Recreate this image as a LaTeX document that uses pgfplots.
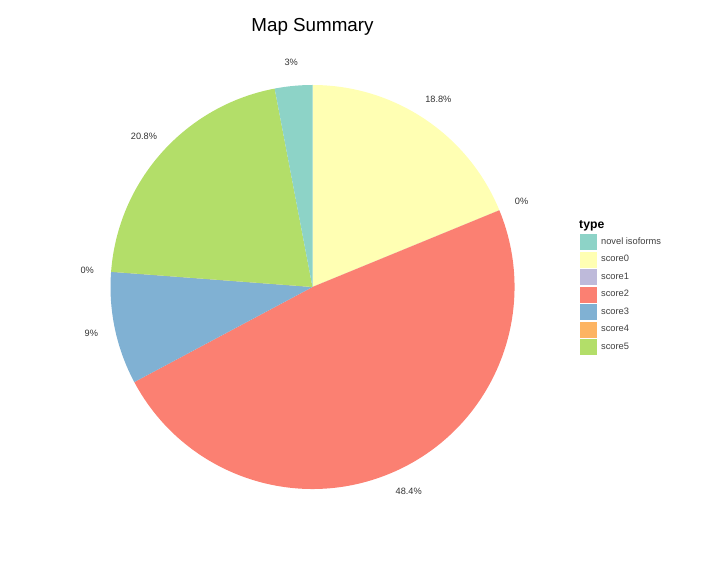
\documentclass[border=0pt]{standalone}
\usepackage{pgfplots}
\pgfplotsset{compat=1.18}
\usepackage{pgfplotstable}
\usepackage{fontspec}
\setmainfont{Liberation Sans}

\definecolor{cNovel}{HTML}{8DD3C7}
\definecolor{cScoreA}{HTML}{FFFFB3}
\definecolor{cScoreB}{HTML}{BEBADA}
\definecolor{cScoreC}{HTML}{FB8072}
\definecolor{cScoreD}{HTML}{80B1D3}
\definecolor{cScoreE}{HTML}{FDB462}
\definecolor{cScoreF}{HTML}{B3DE69}

% slices in clockwise order from 12 o'clock
\pgfplotstableread{
type pct col
score0 18.8 cScoreA
score1 0 cScoreB
score2 48.4 cScoreC
score3 9 cScoreD
score4 0 cScoreE
score5 20.8 cScoreF
novel 3 cNovel
}\piedata

\pgfplotsset{
  keybox/.style={legend image code/.code={%
    \draw[##1] (0bp,-8.55bp) rectangle (18bp,8.55bp);}},
}

\begin{document}
\begin{tikzpicture}
\path[use as bounding box] (0,0) rectangle (716bp,572bp);
\begin{axis}[
  at={(0,0)}, anchor=south west,
  scale only axis, width=716bp, height=572bp,
  xmin=0, xmax=716, ymin=0, ymax=572,
  hide axis, clip=false,
  legend style={at={(axis cs:578.5,339)}, anchor=north west, draw=none,
    inner sep=0pt, row sep=0pt, column sep=2bp,
    font=\fontsize{9.3bp}{11bp}\selectfont, text=black!75},
  legend cell align=left,
]
\def\pcx{312.5}
\def\pcy{285}
\def\pr{202}
\gdef\pcum{0}
\pgfplotsforeachungrouped \i in {0,...,6}{%
  \pgfplotstablegetelem{\i}{pct}\of\piedata \let\spct=\pgfplotsretval
  \pgfplotstablegetelem{\i}{col}\of\piedata \let\scol=\pgfplotsretval
  \pgfmathsetmacro\sa{90-3.6*\pcum}%
  \pgfmathsetmacro\sb{90-3.6*(\pcum+\spct)}%
  \pgfmathsetmacro\sm{(\sa+\sb)/2}%
  \pgfmathsetmacro\lx{\pcx+226*cos(\sm)}%
  \pgfmathsetmacro\ly{\pcy+226*sin(\sm)}%
  \pgfmathsetmacro\sx{\pcx+\pr*cos(\sa)}%
  \pgfmathsetmacro\sy{\pcy+\pr*sin(\sa)}%
  \edef\slicecmd{\noexpand\fill[\scol] (axis cs:\pcx,\pcy) -- (axis cs:\sx,\sy)
    arc[start angle=\sa, end angle=\sb, radius=\pr bp] -- cycle;
    \noexpand\node[font=\noexpand\fontsize{9.2bp}{11bp}\noexpand\selectfont, text=black!80]
      at (axis cs:\lx,\ly) {\spct\noexpand\%};}%
  \slicecmd
  \pgfmathsetmacro\pcumnew{\pcum+\spct}%
  \global\let\pcum=\pcumnew
}

\addlegendimage{keybox, fill=cNovel, draw=white}\addlegendentry{novel isoforms}
\addlegendimage{keybox, fill=cScoreA, draw=white}\addlegendentry{score0}
\addlegendimage{keybox, fill=cScoreB, draw=white}\addlegendentry{score1}
\addlegendimage{keybox, fill=cScoreC, draw=white}\addlegendentry{score2}
\addlegendimage{keybox, fill=cScoreD, draw=white}\addlegendentry{score3}
\addlegendimage{keybox, fill=cScoreE, draw=white}\addlegendentry{score4}
\addlegendimage{keybox, fill=cScoreF, draw=white}\addlegendentry{score5}

\node[anchor=base, font=\fontsize{18.8bp}{22bp}\selectfont] at (axis cs:312.5,540.5) {Map Summary};
\node[anchor=base west, inner sep=0pt, font=\fontsize{12.2bp}{14bp}\selectfont\bfseries] at (axis cs:579,343) {type};
\end{axis}
\end{tikzpicture}
\end{document}
